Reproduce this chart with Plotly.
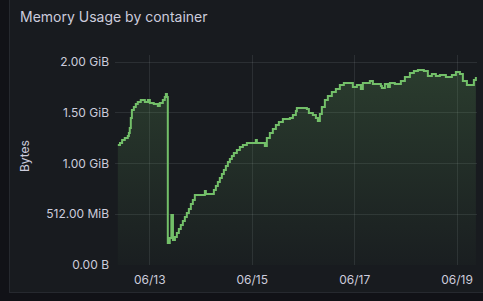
import plotly.graph_objects as go

# ---- data ----
times = [
    "2024-06-12 09:00", "2024-06-12 10:00", "2024-06-12 11:00", "2024-06-12 12:15",
    "2024-06-12 13:40", "2024-06-12 14:10", "2024-06-12 14:35", "2024-06-12 15:05",
    "2024-06-12 15:35", "2024-06-12 16:30", "2024-06-12 17:25", "2024-06-12 18:20",
    "2024-06-12 19:45", "2024-06-12 21:40", "2024-06-12 23:05", "2024-06-13 00:00",
    "2024-06-13 01:50", "2024-06-13 03:45", "2024-06-13 04:40", "2024-06-13 06:05",
    "2024-06-13 07:00", "2024-06-13 07:30", "2024-06-13 08:00", "2024-06-13 08:25",
    "2024-06-13 09:20", "2024-06-13 10:05", "2024-06-13 10:50", "2024-06-13 11:45",
    "2024-06-13 12:40", "2024-06-13 13:35", "2024-06-13 14:30", "2024-06-13 15:28",
    "2024-06-13 16:24", "2024-06-13 17:20", "2024-06-13 18:17", "2024-06-13 19:13",
    "2024-06-13 20:09", "2024-06-13 21:05", "2024-06-14 01:47", "2024-06-14 02:15",
    "2024-06-14 05:04", "2024-06-14 06:00", "2024-06-14 06:56", "2024-06-14 07:52",
    "2024-06-14 08:48", "2024-06-14 09:45", "2024-06-14 10:41", "2024-06-14 11:37",
    "2024-06-14 12:34", "2024-06-14 13:30", "2024-06-14 14:26", "2024-06-14 15:22",
    "2024-06-14 16:47", "2024-06-14 18:11", "2024-06-14 19:36", "2024-06-14 21:28",
    "2024-06-15 01:41", "2024-06-15 02:09", "2024-06-15 05:26", "2024-06-15 05:54",
    "2024-06-15 06:50", "2024-06-15 08:15", "2024-06-15 09:39", "2024-06-15 11:04",
    "2024-06-15 12:28", "2024-06-15 14:21", "2024-06-15 17:38", "2024-06-15 19:02",
    "2024-06-15 20:26", "2024-06-15 20:54", "2024-06-16 01:36", "2024-06-16 02:32",
    "2024-06-16 04:24", "2024-06-16 05:49", "2024-06-16 06:45", "2024-06-16 07:41",
    "2024-06-16 08:37", "2024-06-16 10:02", "2024-06-16 11:26", "2024-06-16 13:18",
    "2024-06-16 15:11", "2024-06-16 17:03", "2024-06-16 18:56", "2024-06-16 22:41",
    "2024-06-16 23:09", "2024-06-17 01:01", "2024-06-17 02:54", "2024-06-17 03:50",
    "2024-06-17 07:07", "2024-06-17 08:32", "2024-06-17 12:17", "2024-06-17 12:45",
    "2024-06-17 14:09", "2024-06-17 15:34", "2024-06-17 16:30", "2024-06-17 18:50",
    "2024-06-17 20:15", "2024-06-17 21:39", "2024-06-17 23:32", "2024-06-18 01:53",
    "2024-06-18 03:45", "2024-06-18 05:38", "2024-06-18 08:26", "2024-06-18 10:18",
    "2024-06-18 12:11", "2024-06-18 14:03", "2024-06-18 15:56", "2024-06-18 18:45",
    "2024-06-18 21:34", "2024-06-18 23:26", "2024-06-19 01:19", "2024-06-19 02:43",
    "2024-06-19 04:36", "2024-06-19 06:56", "2024-06-19 07:52", "2024-06-19 08:48",
]
memory_gib = [
    1.182, 1.202, 1.232, 1.251, 1.271, 1.300, 1.350, 1.448,
    1.527, 1.557, 1.586, 1.606, 1.626, 1.606, 1.626, 1.596,
    1.586, 1.567, 1.596, 1.626, 1.655, 1.685, 1.655, 0.217,
    0.266, 0.493, 0.246, 0.276, 0.315, 0.355, 0.394, 0.433,
    0.473, 0.512, 0.552, 0.601, 0.640, 0.690, 0.729, 0.700,
    0.700, 0.739, 0.778, 0.818, 0.857, 0.897, 0.936, 0.975,
    1.015, 1.044, 1.074, 1.103, 1.133, 1.163, 1.182, 1.202,
    1.232, 1.202, 1.202, 1.172, 1.251, 1.300, 1.340, 1.379,
    1.409, 1.438, 1.448, 1.478, 1.517, 1.547, 1.537, 1.498,
    1.478, 1.448, 1.419, 1.488, 1.557, 1.626, 1.665, 1.704,
    1.734, 1.773, 1.793, 1.793, 1.754, 1.773, 1.734, 1.793,
    1.813, 1.783, 1.764, 1.744, 1.783, 1.754, 1.793, 1.783,
    1.783, 1.813, 1.852, 1.892, 1.911, 1.921, 1.911, 1.862,
    1.882, 1.862, 1.872, 1.852, 1.872, 1.901, 1.882, 1.813,
    1.773, 1.773, 1.823, 1.852,
]
y_tick_vals = [0, 0.5, 1.0, 1.5, 2.0]
y_tick_text = ["0.00 B", "512.00 MiB", "1.00 GiB", "1.50 GiB", "2.00 GiB"]
x_tick_vals = ["2024-06-13", "2024-06-15", "2024-06-17", "2024-06-19"]
x_tick_text = ["06/13", "06/15", "06/17", "06/19"]
title_text = "Memory Usage by container"
y_title = "Bytes"

# ---- layout geometry (pixels) ----
W, H = 483, 301
ML, MR, MT, MB = 115, 6, 55, 36
PW, PH = W - ML - MR, H - MT - MB


def px(xp):
    return (xp - ML) / PW


def py(yp):
    return (H - MB - yp) / PH


GREEN = "#73bf69"
TEXT = "#ccccdc"
GRID = "rgba(240,250,255,0.09)"

fig = go.Figure()
fig.add_trace(go.Scatter(
    x=times, y=memory_gib, mode="lines", line_shape="hv",
    line=dict(color=GREEN, width=2),
    fill="tozeroy",
    fillgradient=dict(type="vertical", start=0, stop=max(memory_gib),
                      colorscale=[[0, "rgba(115,191,105,0.02)"],
                                  [1, "rgba(115,191,105,0.20)"]]),
    hoverinfo="skip", showlegend=False,
))

fig.update_layout(
    width=W, height=H,
    margin=dict(l=ML, r=MR, t=MT, b=MB),
    paper_bgcolor="#181b1f", plot_bgcolor="#181b1f",
    font=dict(family="Inter", size=12, color=TEXT),
    xaxis=dict(range=["2024-06-12 07:40", "2024-06-19 09:20"],
               tickvals=x_tick_vals, ticktext=x_tick_text,
               showgrid=True, gridcolor=GRID, gridwidth=1,
               zeroline=False, showline=False, ticks="",
               ticklabelstandoff=6,
               tickfont=dict(size=12, color=TEXT)),
    yaxis=dict(range=[0, PH / 101.5],
               tickvals=y_tick_vals, ticktext=y_tick_text,
               showgrid=True, gridcolor=GRID, gridwidth=1,
               zeroline=False, showline=False, ticks="",
               ticklabelstandoff=5,
               tickfont=dict(size=12, color=TEXT)),
    shapes=[
        dict(type="rect", xref="paper", yref="paper",
             x0=px(0), x1=px(9), y0=py(H + 2), y1=py(-2),
             fillcolor="#111217", line_width=0, layer="below"),
        dict(type="rect", xref="paper", yref="paper",
             x0=px(0), x1=px(W + 2), y0=py(H + 2), y1=py(293),
             fillcolor="#111217", line_width=0, layer="below"),
        dict(type="line", xref="paper", yref="paper",
             x0=px(9.5), x1=px(9.5), y0=py(293), y1=py(-2),
             line=dict(color="#26292f", width=1)),
        dict(type="line", xref="paper", yref="paper",
             x0=px(9.5), x1=px(W + 2), y0=py(292.5), y1=py(292.5),
             line=dict(color="#26292f", width=1)),
    ],
    annotations=[
        dict(text=title_text, xref="paper", yref="paper",
             x=px(18), y=py(17), xanchor="left", yanchor="middle",
             showarrow=False, font=dict(family="Inter", size=14, color=TEXT)),
        dict(text=y_title, xref="paper", yref="paper",
             x=px(24), y=py(156), xanchor="center", yanchor="middle",
             textangle=-90, showarrow=False,
             font=dict(family="Inter", size=12, color=TEXT)),
    ],
)

fig.write_html("out.html")
